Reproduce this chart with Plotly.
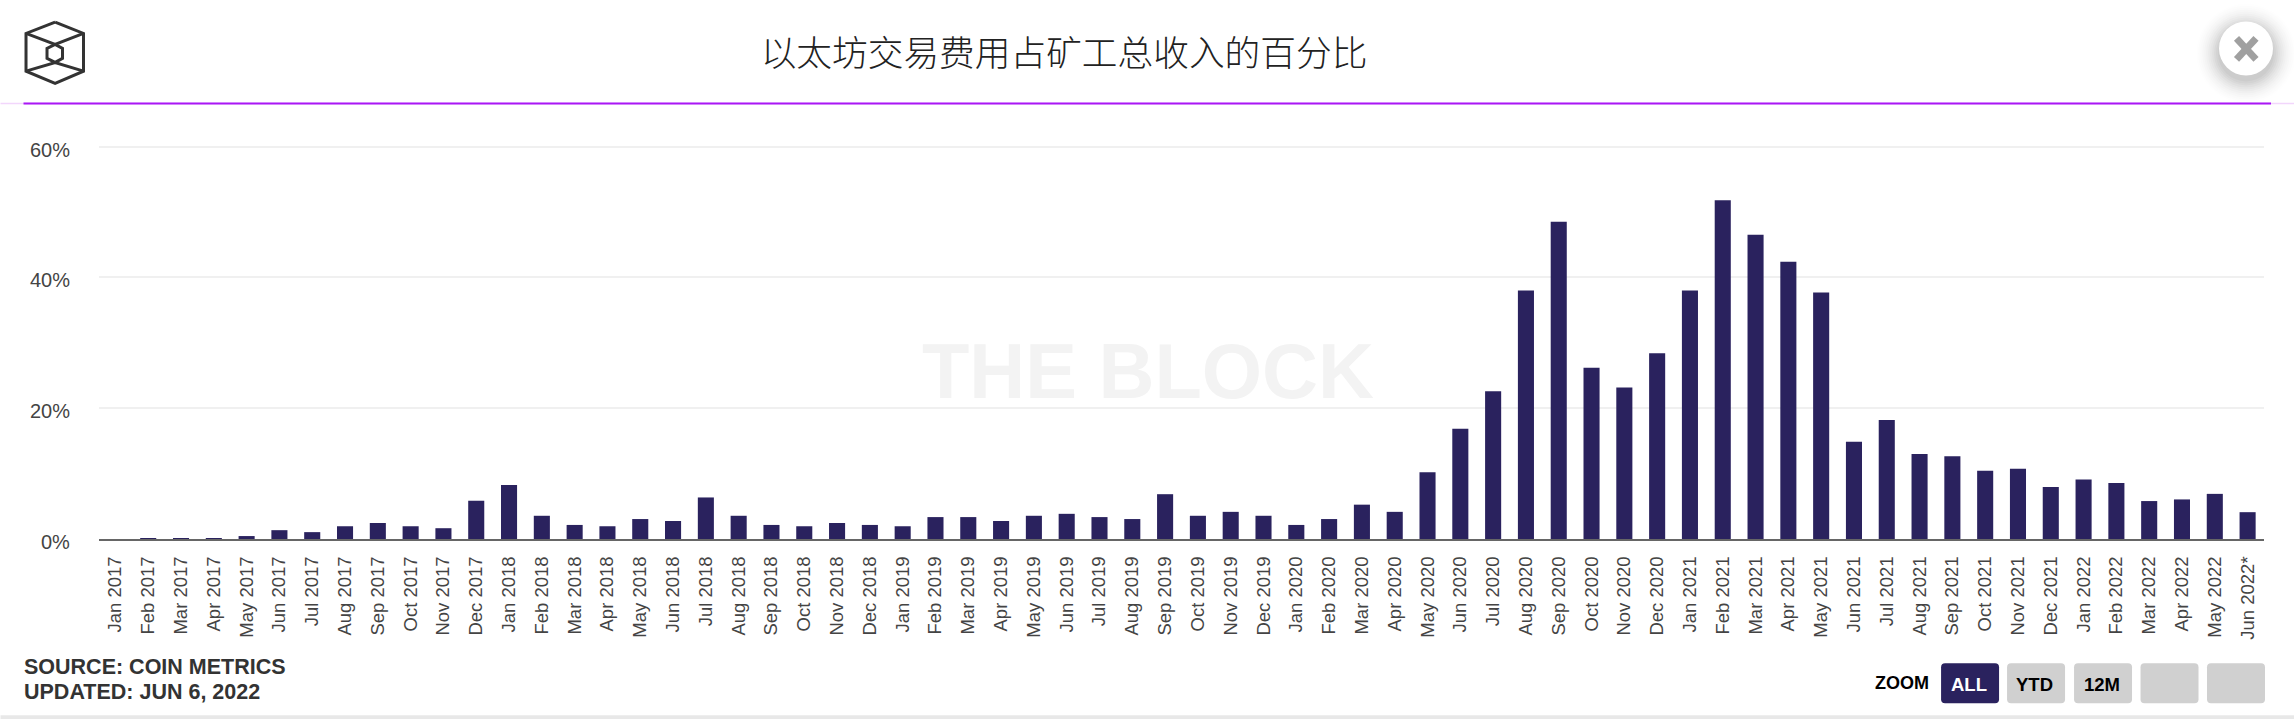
# -*- coding: utf-8 -*-
import plotly.graph_objects as go

WIDTH = 2294
HEIGHT = 719
LEFT = 98.5
RIGHT = 2264
BOTTOM = 539
Y_MAX = 61
TOP = BOTTOM - 392 * Y_MAX / 60

years_months = [
    'Jan 2017', 'Feb 2017', 'Mar 2017', 'Apr 2017', 'May 2017', 'Jun 2017', 'Jul 2017', 'Aug 2017', 'Sep 2017', 'Oct 2017', 'Nov 2017', 'Dec 2017',
    'Jan 2018', 'Feb 2018', 'Mar 2018', 'Apr 2018', 'May 2018', 'Jun 2018', 'Jul 2018', 'Aug 2018', 'Sep 2018', 'Oct 2018', 'Nov 2018', 'Dec 2018',
    'Jan 2019', 'Feb 2019', 'Mar 2019', 'Apr 2019', 'May 2019', 'Jun 2019', 'Jul 2019', 'Aug 2019', 'Sep 2019', 'Oct 2019', 'Nov 2019', 'Dec 2019',
    'Jan 2020', 'Feb 2020', 'Mar 2020', 'Apr 2020', 'May 2020', 'Jun 2020', 'Jul 2020', 'Aug 2020', 'Sep 2020', 'Oct 2020', 'Nov 2020', 'Dec 2020',
    'Jan 2021', 'Feb 2021', 'Mar 2021', 'Apr 2021', 'May 2021', 'Jun 2021', 'Jul 2021', 'Aug 2021', 'Sep 2021', 'Oct 2021', 'Nov 2021', 'Dec 2021',
    'Jan 2022', 'Feb 2022', 'Mar 2022', 'Apr 2022', 'May 2022', 'Jun 2022*',
]
fee_share = [
    0.0, 0.12, 0.12, 0.12, 0.45, 1.35, 1.05, 1.95, 2.45, 1.95, 1.65, 5.85,
    8.25, 3.55, 2.15, 1.95, 3.05, 2.75, 6.35, 3.55, 2.15, 1.95, 2.45, 2.15,
    1.95, 3.35, 3.35, 2.75, 3.55, 3.85, 3.35, 3.05, 6.85, 3.55, 4.15, 3.55,
    2.15, 3.05, 5.25, 4.15, 10.2, 16.85, 22.6, 38.0, 48.5, 26.2, 23.15, 28.4,
    38.0, 51.8, 46.5, 42.4, 37.7, 14.85, 18.2, 13.0, 12.65, 10.45, 10.75, 7.95,
    9.1, 8.55, 5.8, 6.05, 6.9, 4.1,
]
y_ticks = [0, 20, 40, 60]
y_labels = ['0%', '20%', '40%', '60%']
zoom_buttons = ['ALL', 'YTD', '12M', '', '']
button_lefts = [1941, 2007, 2074, 2140.5, 2207]

NAVY = '#2a225e'


def fx(x):
    return (x - LEFT) / (RIGHT - LEFT)


def fy(y):
    return (BOTTOM - y) / (BOTTOM - TOP)


def line(x0, y0, x1, y1, color, width):
    return dict(type='line', xref='paper', yref='paper', x0=fx(x0), y0=fy(y0), x1=fx(x1), y1=fy(y1),
                line=dict(color=color, width=width), layer='above')


def box(x0, y0, x1, y1, color):
    return dict(type='rect', xref='paper', yref='paper', x0=fx(x0), y0=fy(y0), x1=fx(x1), y1=fy(y1),
                fillcolor=color, line=dict(width=0), layer='above')


def rounded(x0, y0, x1, y1, r, color):
    p = (f'M {fx(x0 + r)} {fy(y0)} L {fx(x1 - r)} {fy(y0)} Q {fx(x1)} {fy(y0)} {fx(x1)} {fy(y0 + r)} '
         f'L {fx(x1)} {fy(y1 - r)} Q {fx(x1)} {fy(y1)} {fx(x1 - r)} {fy(y1)} '
         f'L {fx(x0 + r)} {fy(y1)} Q {fx(x0)} {fy(y1)} {fx(x0)} {fy(y1 - r)} '
         f'L {fx(x0)} {fy(y0 + r)} Q {fx(x0)} {fy(y0)} {fx(x0 + r)} {fy(y0)} Z')
    return dict(type='path', xref='paper', yref='paper', path=p, fillcolor=color, line=dict(width=0), layer='above')


def circle(cx, cy, r, color, opacity=1):
    return dict(type='circle', xref='paper', yref='paper', x0=fx(cx - r), y0=fy(cy - r), x1=fx(cx + r), y1=fy(cy + r),
                fillcolor=color, line=dict(width=0), opacity=opacity, layer='above')


def polyline(points, color, width):
    p = 'M ' + ' L '.join(f'{fx(a)} {fy(b)}' for a, b in points)
    return dict(type='path', xref='paper', yref='paper', path=p, line=dict(color=color, width=width), layer='above')


def label(text, x, y, size, color, anchor='center'):
    return dict(text=text, xref='paper', yref='paper', x=fx(x), y=fy(y), xanchor=anchor, yanchor='middle', showarrow=False,
                font=dict(family='Liberation Sans', size=size, color=color, weight='bold'))


fig = go.Figure()
fig.add_trace(go.Bar(x=years_months, y=fee_share, marker=dict(color=NAVY, line=dict(width=0))))

shapes = []
# header rule
shapes.append(line(0, 104, WIDTH, 104, '#f2d6fc', 1.5))
shapes.append(line(23, 104, 2271, 104, '#a917f5', 2))
# logo
logo = '#333333'
shapes.append(polyline([(54.6, 22.7), (83, 34), (83, 71.7), (54.6, 84), (25.5, 71.7), (25.5, 34), (54.6, 22.7)], logo, 3))
shapes.append(polyline([(54.6, 45), (62, 49), (62, 59), (54.6, 63), (46.5, 59), (46.5, 49), (54.6, 45)], logo, 3))
shapes.append(polyline([(25.5, 34), (54.6, 45), (83, 34)], logo, 3))
shapes.append(polyline([(25.5, 71.7), (54.6, 63), (83, 71.7)], logo, 3))
# close button with soft shadow
for r in range(50, 27, -2):
    shapes.append(circle(2246, 54, r, '#000000', 0.004 + (50 - r) * 0.0012))
shapes.append(circle(2246, 49, 27, '#ffffff'))
shapes.append(line(2236.5, 39, 2256, 60, '#a0a0a0', 7))
shapes.append(line(2256, 39, 2236.5, 60, '#a0a0a0', 7))
# bottom strip
shapes.append(box(0, 715, WIDTH, HEIGHT, '#e8e8e8'))

annotations = [
    label('THE BLOCK', 1148, 371, 77.5, '#f3f3f3'),
    label('SOURCE: COIN METRICS', 21, 667, 21.5, '#333333', 'left'),
    label('UPDATED: JUN 6, 2022', 21, 692, 21.5, '#333333', 'left'),
    label('ZOOM', 1901.5, 682.5, 18, '#000000'),
]

# y labels sit a little under their grid lines in the original
for tick, text in zip(y_ticks, y_labels):
    annotations.append(dict(text=text, xref='paper', yref='y', x=fx(71.7), y=tick, yshift=-3, xanchor='right', yanchor='middle',
                            showarrow=False, font=dict(family='Liberation Sans', size=20, color='#444444')))

for i, name in enumerate(zoom_buttons):
    left = button_lefts[i]
    active = name == 'ALL'
    shapes.append(rounded(left, 663, left + 58, 703, 4, NAVY if active else '#d0d0d0'))
    if name:
        annotations.append(label(name, left + 27.5, 684, 18.5, '#ffffff' if active else '#000000'))

fig.update_layout(
    width=WIDTH,
    height=HEIGHT,
    margin=dict(l=LEFT, r=WIDTH - RIGHT, t=TOP, b=HEIGHT - BOTTOM, pad=0, autoexpand=False),
    paper_bgcolor='#ffffff',
    plot_bgcolor='#ffffff',
    showlegend=False,
    bargap=0.51,
    title=dict(text='以太坊交易费用占矿工总收入的百分比', x=1064 / WIDTH, xref='container', xanchor='center',
               y=1 - 54 / HEIGHT, yanchor='middle',
               font=dict(family='Noto Sans CJK SC', size=35.7, color='#222222', weight=300)),
    xaxis=dict(
        type='category',
        categoryorder='array',
        categoryarray=years_months,
        tickmode='array',
        tickvals=years_months,
        ticktext=years_months,
        tickangle=-90,
        ticks='',
        ticklabelstandoff=8,
        tickfont=dict(family='Liberation Sans', size=18.5, color='#444444'),
        showgrid=False,
        showline=True,
        linecolor='#666666',
        linewidth=2,
        zeroline=False,
    ),
    yaxis=dict(
        range=[0, Y_MAX],
        tickmode='array',
        tickvals=y_ticks,
        ticktext=y_labels,
        showticklabels=False,
        ticks='',
        showgrid=True,
        gridcolor='#f0f0f0',
        gridwidth=2,
        zeroline=False,
        showline=False,
    ),
    shapes=shapes,
    annotations=annotations,
)

fig.write_html('out.html', config={'displayModeBar': False},
               post_script="document.body.style.margin='0';")
